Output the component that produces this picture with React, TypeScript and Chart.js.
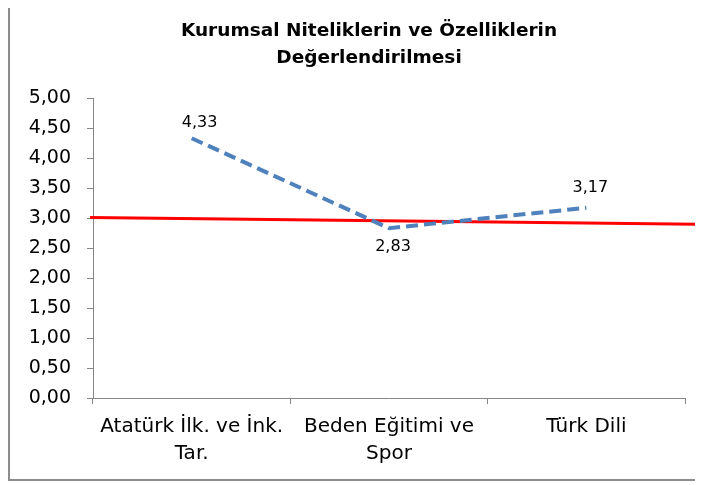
import React, { useEffect, useRef } from "react";
import { Chart, registerables } from "chart.js";

Chart.register(...registerables);

const titleLines = ["Kurumsal Niteliklerin ve Özelliklerin", "Değerlendirilmesi"];
const categories: (string | string[])[] = [
  ["Atatürk İlk. ve İnk.", "Tar."],
  ["Beden Eğitimi ve", "Spor"],
  "Türk Dili",
];
const scores = [4.33, 2.83, 3.17];
const refLineX = [-0.005, 1.02];
const refLineY = [3.01, 2.895];
const yMin = 0;
const yMax = 5;
const yStep = 0.5;

const labelOffsets = [
  [8, -15],
  [4, 19],
  [4, -20],
];

const fmt = (v: number) => v.toFixed(2).replace(".", ",");

const FONT = "'DejaVu Sans', 'Open Sans', sans-serif";

const valueLabels = {
  id: "valueLabels",
  afterDatasetsDraw(chart: any) {
    const meta = chart.getDatasetMeta(0);
    const ctx = chart.ctx;
    ctx.save();
    ctx.font = `16px ${FONT}`;
    ctx.fillStyle = "#000";
    ctx.textAlign = "center";
    ctx.textBaseline = "middle";
    meta.data.forEach((pt: any, i: number) => {
      const [dx, dy] = labelOffsets[i];
      ctx.fillText(fmt(scores[i]), pt.x + dx, pt.y + dy);
    });
    ctx.restore();
  },
};

export default function App() {
  const ref = useRef<HTMLCanvasElement>(null);
  useEffect(() => {
    if (!ref.current) return;
    const chart = new Chart(ref.current, {
      type: "line",
      data: {
        labels: categories as any,
        datasets: [
          {
            data: scores,
            borderColor: "#4F81BD",
            borderWidth: 4,
            borderDash: [12, 6],
            pointRadius: 0,
            fill: false,
            tension: 0,
            xAxisID: "x",
          },
          {
            data: refLineX.map((x, i) => ({ x, y: refLineY[i] })) as any,
            borderColor: "#FF0000",
            borderWidth: 3,
            pointRadius: 0,
            fill: false,
            xAxisID: "x2",
            clip: false as any,
          },
        ],
      },
      options: {
        animation: false,
        responsive: false,
        layout: { padding: { left: 0, right: 0, top: 0, bottom: 0 } },
        plugins: {
          legend: { display: false },
          tooltip: { enabled: false },
          title: {
            display: true,
            text: titleLines,
            color: "#000",
            font: { family: FONT, size: 18.5, weight: "bold", lineHeight: 1.46 },
            padding: { top: 10, bottom: 26 },
          },
        },
        scales: {
          x: {
            type: "category",
            offset: true,
            grid: {
              offset: true,
              drawOnChartArea: false,
              drawTicks: true,
              tickLength: 6,
              color: "#868686",
            },
            border: { color: "#868686", width: 1 },
            ticks: {
              color: "#000",
              font: { family: FONT, size: 20, lineHeight: 1.35 },
              padding: 9,
              maxRotation: 0,
              autoSkip: false,
            },
            afterFit: (axis: any) => {
              axis.height = 81;
            },
          },
          x2: {
            type: "linear",
            display: false,
            min: 0,
            max: 1,
          },
          y: {
            min: yMin,
            max: yMax,
            grid: {
              drawOnChartArea: false,
              drawTicks: true,
              tickLength: 6,
              color: "#868686",
            },
            border: { color: "#868686", width: 1 },
            ticks: {
              stepSize: yStep,
              color: "#000",
              font: { family: FONT, size: 19 },
              padding: 16,
              callback: (v: any) => fmt(Number(v)),
            },
            afterFit: (axis: any) => {
              axis.width = 83;
            },
          },
          yRight: {
            type: "linear",
            position: "right",
            min: yMin,
            max: yMax,
            grid: { display: false, drawTicks: false },
            border: { display: false },
            ticks: { display: false },
            afterFit: (axis: any) => {
              axis.width = 43;
            },
          },
        },
      },
      plugins: [valueLabels],
    });
    return () => chart.destroy();
  }, []);

  return (
    <div
      style={{
        position: "relative",
        top: -8,
        width: 695,
        height: 471,
        paddingTop: 8,
        overflow: "hidden",
        borderLeft: "2px solid #8c8c8c",
        borderBottom: "2px solid #8c8c8c",
        background: "#fff",
      }}
    >
      <canvas ref={ref} width={718} height={471} style={{ display: "block" }} />
    </div>
  );
}
